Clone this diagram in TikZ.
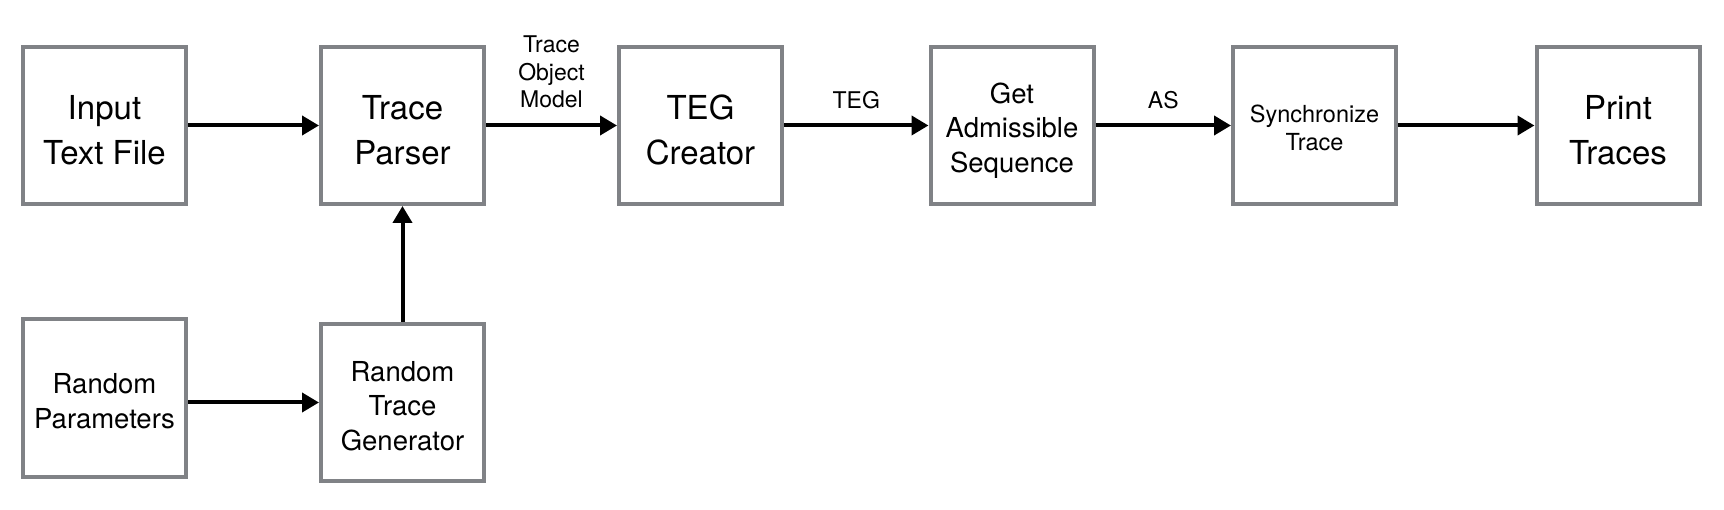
\documentclass[tikz,border=0pt]{standalone}
\usepackage{fontspec}
\setmainfont{TeX Gyre Heros}
\usetikzlibrary{arrows.meta}
\definecolor{boxgray}{RGB}{128,130,134}
\begin{document}
\begin{tikzpicture}[x=1pt,y=-1pt,
  box/.style={draw=boxgray, line width=4pt, fill=white, rectangle,
    minimum width=163pt, minimum height=157pt, inner sep=0pt},
  txt/.style={inner sep=0pt, align=center, text depth=0pt},
  big/.style={txt, font=\fontsize{33}{45}\selectfont},
  mid/.style={txt, font=\fontsize{27.5}{34.5}\selectfont},
  small/.style={txt, font=\fontsize{23.5}{27.5}\selectfont},
  conn/.style={line width=4pt, -{Triangle[length=17pt,width=19pt]}},
  lbl/.style={font=\fontsize{23}{27.5}\selectfont, align=center, inner sep=0pt}
]
\useasboundingbox (0,0) rectangle (1724,510);
\node[box] (input) at (104.5,125.5) {};
\node[box] (parser) at (402.5,125.5) {};
\node[box] (teg) at (700.5,125.5) {};
\node[box] (get) at (1012,125.5) {};
\node[box] (sync) at (1314.5,125.5) {};
\node[box] (print) at (1618,125.5) {};
\node[box] (rp) at (104.5,398) {};
\node[box] (rtg) at (402.5,402.5) {};

\node[big] (input-t) at ([yshift=-4pt]input.center) {Input\\Text File};
\node[big] (parser-t) at ([yshift=-4pt]parser.center) {Trace\\Parser};
\node[big] (teg-t) at ([yshift=-4pt]teg.center) {TEG\\Creator};
\node[mid] (get-t) at ([yshift=-2pt]get.center) {Get\\Admissible\\Sequence};
\node[small] (sync-t) at ([yshift=-2pt]sync.center) {Synchronize\\Trace};
\node[big] (print-t) at ([yshift=-4pt]print.center) {Print\\Traces};
\node[mid] (rp-t) at ([yshift=-3pt]rp.center) {Random\\Parameters};
\node[mid] (rtg-t) at ([yshift=-3pt]rtg.center) {Random\\Trace\\Generator};

\draw[conn] (input) -- (parser);
\draw[conn] (parser) -- node[lbl, above=15.5pt] (lto) {Trace\\Object\\Model} (teg);
\draw[conn] (teg) -- node[lbl, above=15pt] (lteg) {TEG} (get);
\draw[conn] (get) -- node[lbl, above=15pt] (las) {AS} (sync);
\draw[conn] (sync) -- (print);
\draw[conn] (rp.east |- rtg.west) -- (rtg.west);
\draw[conn] (rtg) -- (parser);
\end{tikzpicture}
\end{document}
